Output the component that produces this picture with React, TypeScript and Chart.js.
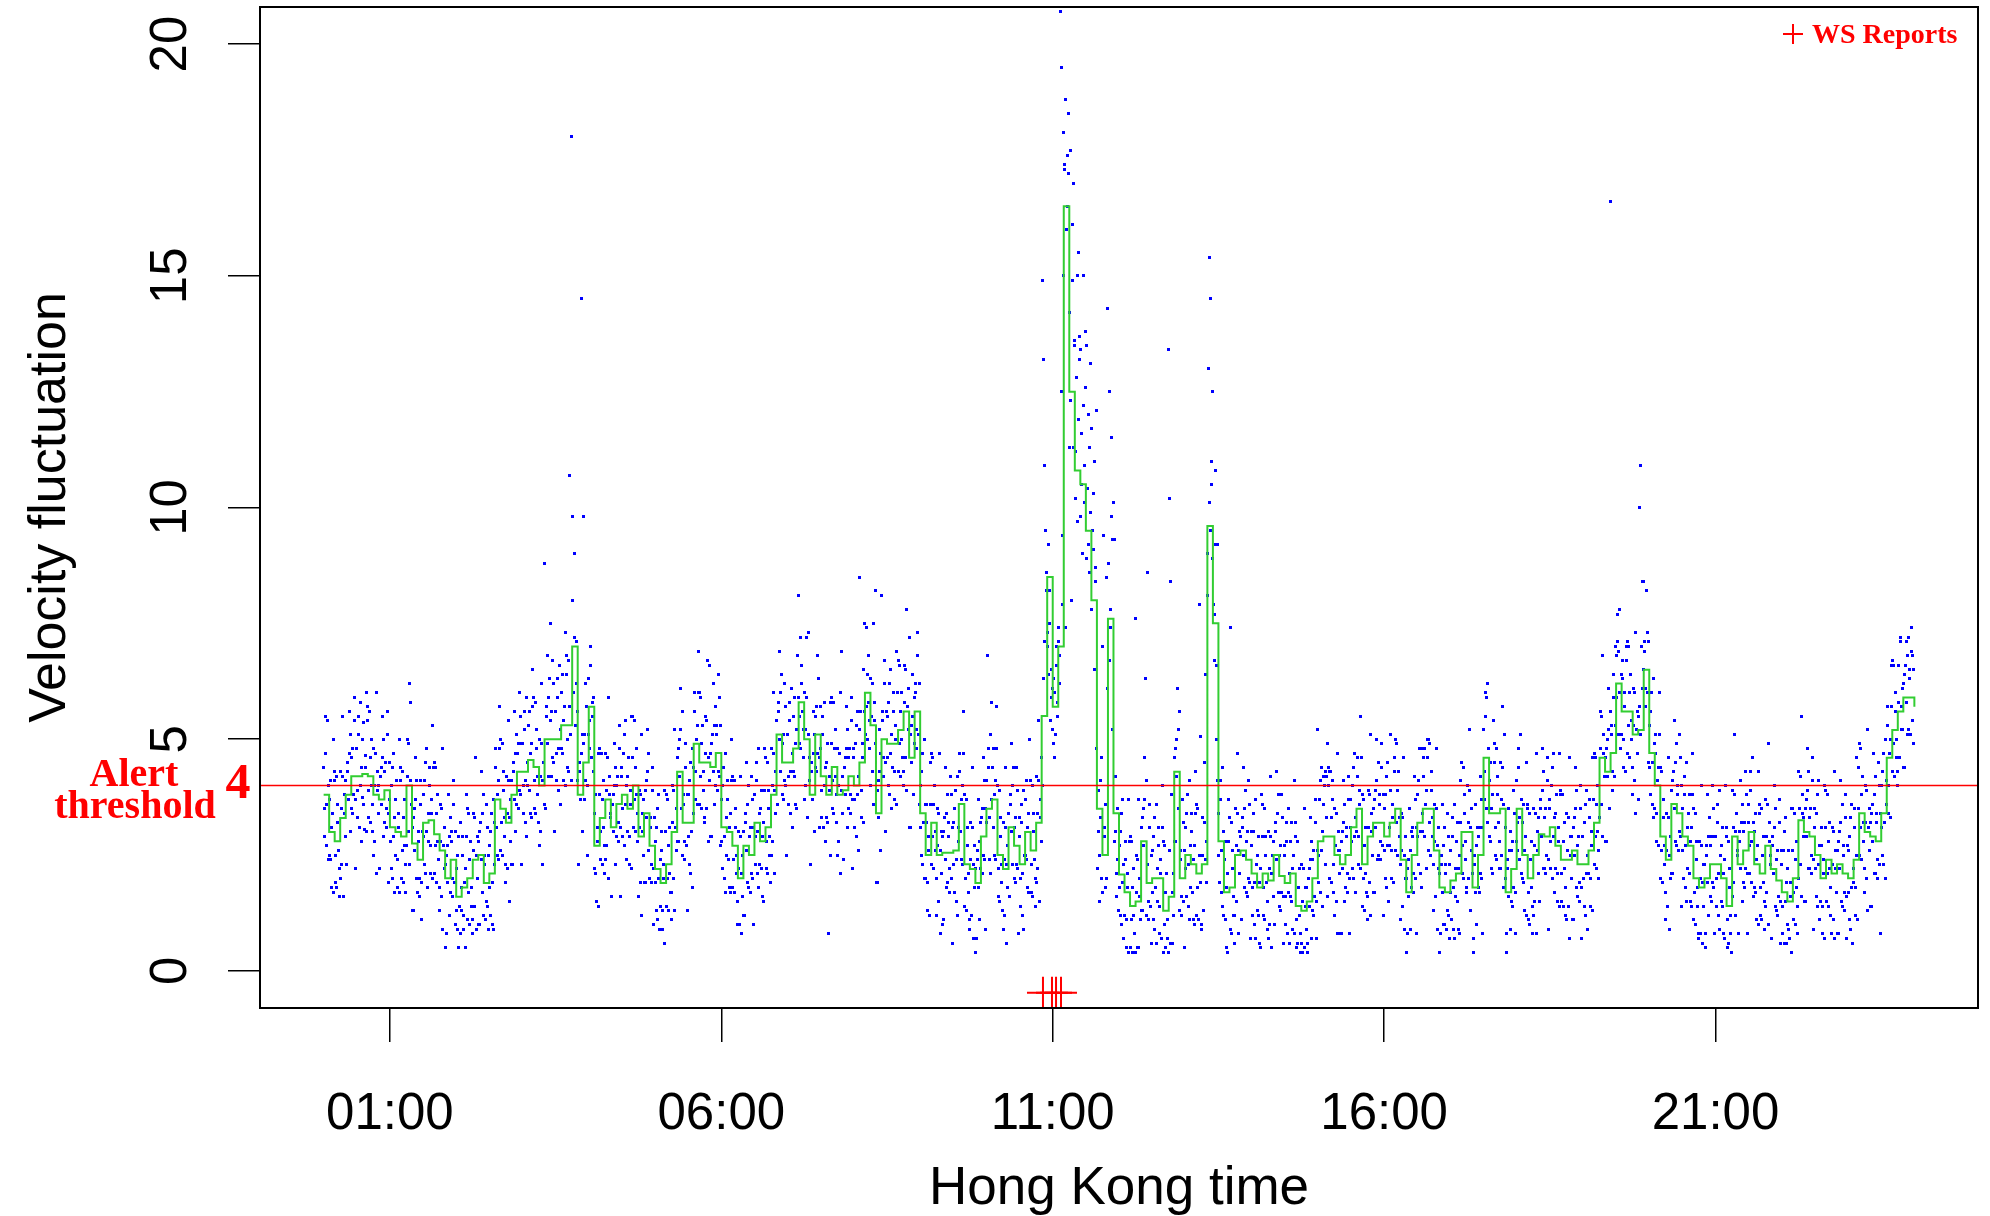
import { useEffect, useRef } from "react";
import { Chart, registerables } from "chart.js";

Chart.register(...registerables);

// ---------- data ----------
const xTickHours = [1, 6, 11, 16, 21];
const xTickLabels = ["01:00", "06:00", "11:00", "16:00", "21:00"];
const yTickValues = [0, 5, 10, 15, 20];
const alertThreshold = 4;
const wsReportHours = [10.853, 10.989, 11.05, 11.125];
const wsMarkerLevel = -0.47;

// running level (green), one value every 5 minutes from 00:00 to 24:00
const greenValues = [
  3.8, 3.0, 2.8, 3.3, 3.8, 4.2, 4.2, 4.25, 4.2, 3.8, 3.7, 3.9,
  3.1, 3.0, 2.9, 4.0, 2.75, 2.4, 3.2, 3.25, 2.95, 2.6, 2.0, 2.4,
  1.6, 1.8, 2.0, 2.4, 2.5, 1.9, 2.1, 3.7, 3.5, 3.2, 3.8, 4.3,
  4.3, 4.55, 4.4, 4.0, 5.0, 5.0, 5.0, 5.3, 5.3, 7.0, 3.8, 4.5,
  5.7, 2.7, 3.3, 3.7, 3.1, 3.6, 3.8, 3.5, 4.0, 2.9, 3.4, 2.7,
  2.2, 1.9, 2.3, 3.0, 4.3, 3.2, 3.2, 4.9, 4.5, 4.5, 4.4, 4.7,
  3.1, 3.0, 2.7, 2.0, 2.7, 2.5, 3.2, 2.8, 3.1, 3.8, 5.1, 4.5,
  4.5, 4.8, 5.8, 5.0, 3.8, 5.1, 4.2, 3.8, 4.4, 3.8, 3.9, 4.2,
  4.0, 4.5, 6.0, 5.3, 3.4, 5.0, 4.9, 4.9, 5.2, 5.6, 4.6, 5.6,
  3.4, 2.5, 3.2, 2.5, 2.55, 2.55, 2.6, 3.6, 2.3, 2.2, 1.9, 2.9,
  3.5, 3.7, 2.5, 2.2, 3.1, 2.7, 2.3, 3.0, 2.6, 3.2, 5.5, 8.5,
  5.7, 7.0, 16.5, 12.5, 10.8, 10.5, 9.5, 8.0, 3.5, 2.5, 7.6, 3.4,
  2.08, 1.7, 1.4, 1.5, 2.8, 1.9, 2.0, 2.0, 1.3, 1.6, 4.3, 2.0,
  2.5, 2.3, 2.1, 2.3, 9.6, 7.5, 2.8, 1.7, 1.8, 2.5, 2.6, 2.4,
  2.1, 1.8, 2.1, 1.95, 2.5, 2.05, 1.9, 2.1, 1.4, 1.3, 1.5, 2.0,
  2.8, 2.9, 2.9, 2.5, 2.3, 2.5, 3.1, 3.5, 2.3, 2.9, 3.2, 3.2,
  2.9, 3.2, 3.5, 2.4, 1.7, 2.5, 3.2, 3.5, 3.5, 2.6, 1.8, 1.7,
  1.95, 2.1, 3.0, 3.0, 1.8, 2.5, 4.6, 3.4, 3.4, 3.5, 1.7, 2.2,
  3.5, 2.5, 2.0, 2.5, 2.95, 2.9, 3.1, 2.7, 2.4, 2.4, 2.6, 2.3,
  2.3, 2.6, 3.2, 4.6, 4.3, 4.7, 6.2, 5.6, 5.6, 5.1, 5.2, 6.5,
  4.7, 4.0, 2.9, 2.4, 3.6, 3.4, 2.9, 2.7, 2.0, 1.8, 2.0, 2.3,
  2.3, 2.0, 1.4, 2.9, 2.3, 2.6, 3.0, 2.3, 2.1, 2.7, 2.2, 1.95,
  1.7, 1.5, 2.0, 3.25, 3.0, 2.9, 2.5, 2.0, 2.4, 2.1, 2.3, 2.1,
  2.0, 2.4, 3.4, 3.0, 2.9, 2.8, 3.4, 4.6, 5.2, 5.6, 5.9, 5.9,
  5.7,
];

// raw samples (blue), on the minute, one row per hour
const blueValues = [
  4.4, 2.9, 5.5, 3.6, 2.4, 2.5, 4.1, 1.8, 3.4, 5.0, 4.3, 2.5, 1.8, 3.6, 2.2, 2.0, 3.5, 4.2, 1.6, 3.8, 4.1, 2.3, 4.5, 5.6, 3.0, 3.5, 4.8, 3.8, 5.4, 2.2, 4.8, 3.3, 5.5, 4.0, 2.8, 3.75, 5.35, 3.05, 4.65, 6.0, 5.7, 3.9, 3.2, 5.0, 3.6, 2.5, 4.0, 4.7, 2.1, 4.3, 4.0, 2.2, 4.4, 5.5, 2.9, 3.2, 4.5, 3.5, 5.1, 1.9,
  3.7, 2.2, 4.4, 2.9, 1.7, 2.5, 4.1, 1.8, 3.4, 5.0, 4.4, 2.6, 1.9, 3.7, 2.3, 2.7, 4.2, 4.9, 2.3, 5.8, 3.1, 1.3, 3.5, 4.6, 2.0, 1.7, 3.0, 2.0, 3.6, 1.1, 3.8, 2.3, 4.5, 3.0, 1.8, 2.8, 4.4, 2.1, 3.7, 5.3, 4.5, 2.7, 1.9, 3.8, 2.4, 1.3, 2.8, 3.5, 0.9, 3.1, 2.3, 0.8, 2.7, 3.8, 1.2, 1.7, 3.0, 2.0, 3.6, 1.0,
  2.2, 0.9, 2.9, 1.4, 0.8, 1.3, 2.9, 0.9, 2.2, 3.8, 3.5, 1.7, 1.0, 2.8, 1.4, 1.1, 2.6, 3.3, 0.9, 2.9, 2.8, 1.0, 3.2, 4.3, 1.7, 1.2, 2.5, 1.5, 3.1, 0.9, 2.7, 1.2, 3.4, 1.9, 0.9, 3.2, 4.8, 2.5, 4.1, 5.7, 5.0, 3.2, 2.5, 4.3, 2.9, 1.9, 3.4, 4.1, 1.5, 3.7, 4.1, 2.3, 4.5, 5.6, 3.0, 3.6, 4.9, 3.9, 5.5, 2.3,
  4.9, 3.4, 5.6, 4.1, 2.9, 4.0, 5.6, 3.4, 4.9, 6.5, 5.9, 4.1, 3.4, 5.2, 3.8, 2.7, 4.2, 4.9, 2.3, 4.5, 8.8, 3.5, 5.7, 6.8, 4.2, 7.5, 5.6, 4.6, 6.2, 3.0, 5.6, 4.1, 6.3, 4.8, 3.6, 4.8, 6.4, 4.1, 5.7, 7.3, 6.8, 5.0, 4.3, 10.7, 18.0, 9.8, 6.0, 7.2, 5.3, 6.2, 4.1, 2.3, 4.5, 14.5, 3.0, 9.8, 5.1, 4.1, 5.7, 2.5,
  6.3, 4.8, 7.0, 5.5, 4.3, 2.2, 3.8, 1.5, 3.1, 4.7, 4.8, 3.0, 2.3, 4.1, 2.7, 2.4, 3.9, 4.6, 2.0, 4.2, 3.4, 1.6, 3.8, 4.9, 2.3, 2.9, 4.2, 3.2, 4.8, 1.6, 4.4, 2.9, 5.1, 3.6, 2.4, 3.0, 4.6, 2.3, 3.9, 5.5, 5.5, 3.7, 3.0, 4.8, 3.4, 1.6, 3.1, 3.8, 1.2, 3.4, 3.7, 1.9, 4.1, 5.2, 2.6, 2.0, 3.3, 2.3, 3.9, 1.0,
  2.8, 1.3, 3.5, 2.0, 0.9, 1.4, 3.0, 0.9, 2.3, 3.9, 3.8, 2.0, 1.3, 3.1, 1.7, 1.7, 3.2, 3.9, 1.3, 3.5, 4.6, 2.8, 5.0, 6.1, 3.5, 2.5, 3.8, 2.8, 4.4, 1.3, 3.8, 2.3, 4.5, 3.0, 1.8, 4.4, 6.0, 3.7, 5.3, 6.9, 6.0, 4.2, 3.5, 5.3, 3.9, 3.2, 4.7, 5.4, 2.8, 6.6, 4.7, 2.9, 5.1, 6.2, 3.6, 4.0, 5.3, 4.3, 5.9, 2.7,
  3.7, 2.2, 4.4, 2.9, 1.7, 2.5, 4.1, 1.8, 3.4, 5.0, 4.2, 2.4, 1.7, 3.5, 2.1, 1.0, 2.2, 2.9, 0.8, 2.5, 3.0, 1.2, 3.4, 4.5, 1.9, 1.8, 3.1, 2.1, 3.7, 1.0, 3.8, 2.3, 4.5, 3.0, 1.8, 2.3, 3.9, 1.6, 3.2, 4.8, 4.6, 2.8, 2.1, 3.9, 2.5, 2.5, 4.0, 4.7, 2.1, 4.3, 5.4, 3.6, 5.8, 6.9, 4.3, 3.8, 5.1, 4.1, 5.7, 2.5,
  5.1, 3.6, 5.8, 4.3, 3.1, 4.3, 5.9, 3.6, 5.2, 6.8, 8.1, 5.5, 4.8, 6.6, 5.2, 3.7, 5.2, 5.9, 3.3, 7.3, 4.1, 2.3, 4.5, 5.6, 3.0, 4.4, 5.7, 4.7, 6.3, 3.1, 4.8, 3.3, 5.5, 4.0, 2.8, 3.3, 4.9, 0.8, 4.2, 5.8, 5.9, 4.1, 3.4, 5.2, 3.8, 2.5, 4.0, 4.7, 2.1, 6.9, 4.2, 2.4, 4.6, 5.7, 3.1, 3.5, 4.8, 3.8, 5.4, 2.2,
  4.6, 3.1, 5.3, 3.8, 2.6, 8.5, 5.6, 3.3, 4.9, 6.5, 7.5, 5.7, 5.0, 6.8, 5.4, 4.0, 5.5, 6.2, 3.6, 5.8, 8.2, 1.9, 4.1, 5.2, 2.6, 8.1, 5.6, 4.6, 6.2, 3.0, 5.5, 4.0, 6.2, 4.7, 3.5, 4.4, 6.0, 3.7, 5.3, 6.9, 6.7, 4.9, 4.2, 6.0, 4.6, 4.3, 5.8, 6.5, 3.9, 6.1, 7.2, 3.1, 5.3, 6.4, 3.8, 4.9, 6.2, 5.2, 6.8, 3.6,
  4.0, 2.5, 4.7, 3.2, 2.0, 2.0, 3.6, 1.3, 2.9, 4.5, 4.7, 2.9, 2.2, 4.0, 2.6, 1.2, 2.7, 3.4, 0.8, 3.0, 2.9, 1.1, 3.3, 4.4, 1.8, 1.9, 3.2, 2.2, 3.8, 0.6, 3.2, 1.7, 3.9, 2.4, 1.2, 3.1, 4.7, 2.4, 4.0, 5.6, 3.8, 2.0, 1.3, 3.1, 1.7, 0.9, 2.4, 3.1, 0.7, 2.7, 2.2, 0.7, 2.6, 3.7, 1.1, 2.2, 3.5, 2.5, 4.1, 0.9,
  4.1, 6.8, 4.8, 3.3, 2.1, 5.8, 4.8, 2.5, 4.1, 5.7, 4.0, 2.2, 1.5, 3.3, 1.9, 0.9, 2.4, 3.1, 0.6, 2.7, 3.4, 1.6, 3.8, 4.9, 2.3, 2.0, 3.3, 2.3, 3.9, 0.8, 2.9, 1.4, 3.6, 2.1, 0.9, 2.5, 4.1, 1.8, 3.4, 5.0, 4.1, 2.3, 1.6, 3.4, 2.0, 1.9, 3.4, 4.1, 1.5, 3.7, 4.6, 14.9, 13.2, 10.9, 8.2, 7.3, 9.2, 7.5, 5.4, 6.5,
  5.2, 6.3, 4.6, 7.0, 5.5, 7.4, 6.8, 20.7, 12.5, 9.4, 18.1, 17.4, 7.4, 16.5, 18.5, 11.3, 17.7, 8.0, 14.9, 17.0, 13.5, 11.2, 15.0, 15.5, 13.7, 13.4, 10.5, 9.0, 15.0, 10.9, 12.6, 13.5, 12.0, 8.6, 13.1, 11.7, 9.5, 10.3, 11.0, 8.7, 4.8, 3.0, 2.5, 4.1, 2.0, 7.0, 9.4, 3.1, 1.8, 8.5, 14.3, 12.5, 7.8, 11.5, 9.3, 10.1, 9.3, 3.0, 1.6, 2.4,
  2.7, 1.2, 3.4, 1.9, 0.7, 1.2, 2.8, 0.5, 2.1, 3.7, 2.9, 1.1, 0.4, 2.2, 0.8, 7.6, 1.7, 2.4, 0.5, 2.0, 3.1, 1.3, 3.5, 4.6, 6.3, 1.2, 8.6, 1.5, 3.1, 0.6, 2.6, 1.1, 3.3, 1.8, 0.6, 1.5, 3.1, 0.8, 2.4, 4.0, 2.8, 1.0, 0.5, 2.1, 0.7, 13.4, 10.2, 8.4, 0.6, 2.1, 4.6, 2.8, 5.0, 6.1, 3.5, 1.3, 2.6, 1.6, 3.2, 0.5,
  3.1, 1.6, 3.8, 2.3, 1.1, 1.8, 3.4, 1.1, 2.7, 4.3, 3.6, 1.8, 1.1, 7.9, 5.05, 1.0, 2.5, 3.2, 6.4, 2.8, 9.0, 13.0, 15.4, 14.5, 11.0, 12.5, 7.7, 10.8, 6.6, 9.2, 3.4, 1.9, 4.1, 2.6, 1.4, 1.2, 2.8, 0.5, 2.1, 3.7, 3.3, 7.4, 0.8, 2.6, 1.2, 1.2, 2.7, 3.4, 0.8, 3.0, 2.9, 1.1, 3.3, 4.4, 1.8, 1.7, 3.0, 2.0, 3.6, 0.7,
  2.7, 1.2, 3.4, 1.9, 0.7, 1.3, 2.9, 0.6, 2.2, 3.8, 3.6, 1.8, 1.1, 2.9, 1.5, 0.7, 2.2, 2.9, 0.5, 2.5, 2.8, 1.0, 3.2, 4.3, 1.7, 1.4, 2.7, 1.7, 3.3, 0.6, 2.5, 1.0, 3.2, 1.7, 0.6, 1.6, 3.2, 0.9, 2.5, 4.1, 2.9, 1.1, 0.6, 2.2, 0.8, 0.6, 1.5, 2.2, 0.5, 1.8, 1.8, 0.6, 2.2, 3.3, 0.7, 1.3, 2.6, 1.6, 3.2, 0.7,
  5.2, 1.9, 4.1, 2.6, 1.4, 4.2, 4.0, 4.3, 3.3, 4.9, 4.4, 4.3, 1.9, 3.7, 2.3, 1.2, 2.7, 3.4, 0.8, 3.0, 2.6, 0.8, 3.0, 4.1, 1.5, 1.8, 3.1, 2.1, 3.7, 0.8, 3.7, 2.2, 4.4, 2.9, 1.7, 3.0, 4.6, 2.3, 3.9, 5.5, 3.8, 2.0, 1.3, 3.1, 1.7, 1.6, 3.1, 3.8, 1.2, 3.4, 3.5, 1.7, 3.9, 5.0, 2.4, 2.5, 3.8, 2.8, 4.4, 1.2,
  3.5, 2.0, 4.2, 2.7, 1.5, 2.7, 5.1, 2.0, 3.6, 4.6, 5.0, 3.2, 2.5, 4.3, 2.9, 1.1, 2.6, 3.3, 0.9, 2.9, 2.0, 0.8, 2.4, 3.5, 0.9, 1.8, 3.1, 2.1, 3.7, 0.8, 3.8, 2.3, 4.8, 3.0, 1.8, 3.0, 4.6, 4.8, 3.9, 5.0, 5.0, 3.2, 2.5, 4.3, 2.9, 1.3, 2.8, 3.5, 0.9, 3.1, 2.1, 0.8, 2.5, 3.6, 1.0, 1.0, 2.3, 1.3, 2.9, 0.7,
  2.6, 1.1, 3.3, 1.8, 0.7, 1.6, 3.2, 0.9, 2.5, 4.1, 4.5, 2.7, 2.0, 3.8, 2.4, 1.7, 3.2, 3.9, 1.3, 3.5, 2.1, 0.7, 2.5, 3.6, 1.0, 1.8, 3.1, 2.1, 3.7, 0.8, 5.2, 3.7, 6.0, 5.9, 3.2, 2.9, 4.5, 2.2, 3.8, 5.4, 4.9, 3.1, 2.4, 4.2, 2.8, 2.2, 3.7, 4.4, 1.8, 5.1, 2.0, 0.8, 2.4, 3.5, 0.9, 1.5, 2.8, 1.8, 3.4, 0.8,
  4.1, 2.6, 4.8, 3.3, 2.1, 2.0, 3.6, 1.3, 2.9, 4.5, 3.5, 1.7, 1.0, 2.8, 1.4, 1.2, 2.7, 3.4, 0.8, 3.0, 3.3, 1.5, 3.7, 4.8, 2.2, 2.2, 3.5, 2.5, 4.1, 0.9, 3.7, 2.2, 4.4, 2.9, 1.7, 2.2, 3.8, 1.5, 3.1, 4.7, 3.9, 2.1, 1.4, 3.2, 1.8, 1.1, 2.6, 3.3, 0.7, 2.9, 2.9, 1.1, 3.3, 4.4, 1.8, 1.6, 2.9, 1.9, 3.5, 0.7,
  2.9, 1.4, 3.6, 2.1, 0.9, 2.1, 3.7, 1.4, 3.0, 4.6, 4.7, 2.9, 2.2, 4.0, 2.6, 3.3, 4.8, 5.5, 2.9, 5.1, 4.6, 2.8, 5.0, 6.1, 3.5, 16.6, 5.3, 4.3, 5.9, 7.0, 6.8, 7.7, 6.9, 6.0, 4.8, 5.1, 6.7, 4.4, 6.0, 7.0, 7.1, 5.3, 4.6, 6.4, 5.0, 3.8, 5.3, 6.0, 3.4, 5.6, 5.5, 10.0, 10.9, 7.0, 8.4, 8.4, 7.1, 6.1, 7.3, 4.5,
  5.3, 3.8, 6.0, 4.5, 3.3, 3.5, 5.1, 2.8, 4.4, 6.0, 4.4, 2.6, 1.9, 3.7, 2.3, 1.1, 2.6, 3.3, 0.9, 2.9, 3.9, 2.1, 4.3, 5.4, 2.8, 2.7, 4.0, 3.0, 4.6, 1.4, 3.5, 2.0, 4.2, 2.7, 1.5, 2.2, 3.8, 1.5, 3.1, 4.7, 3.5, 1.7, 1.0, 2.8, 1.4, 0.7, 2.0, 2.7, 0.6, 2.3, 2.3, 0.8, 2.7, 3.8, 1.2, 1.6, 2.9, 1.9, 3.5, 0.8,
  2.9, 1.4, 3.6, 2.1, 0.9, 1.5, 3.1, 0.8, 2.4, 4.0, 2.9, 1.1, 0.6, 2.2, 0.8, 1.6, 3.1, 3.8, 1.2, 3.4, 2.6, 0.8, 3.0, 4.1, 1.5, 1.9, 3.2, 2.2, 3.8, 0.8, 3.6, 2.1, 4.3, 2.8, 1.6, 1.8, 3.4, 1.1, 2.7, 4.3, 3.6, 1.8, 1.1, 2.9, 1.5, 1.4, 2.9, 3.6, 1.0, 3.2, 2.5, 0.7, 2.9, 4.0, 1.4, 1.3, 2.6, 1.6, 3.2, 0.6,
  2.3, 0.8, 3.0, 1.5, 0.6, 1.0, 2.6, 0.7, 1.9, 3.5, 3.5, 1.7, 1.0, 2.8, 1.4, 2.0, 3.5, 4.2, 1.6, 3.8, 3.3, 1.5, 3.7, 4.8, 2.2, 2.2, 3.5, 2.5, 4.1, 0.9, 3.1, 1.6, 3.8, 2.3, 1.1, 1.5, 3.1, 0.8, 2.4, 4.0, 3.9, 2.1, 1.4, 3.2, 1.8, 0.8, 2.3, 3.0, 0.7, 2.6, 2.6, 0.8, 3.0, 4.1, 1.5, 1.4, 2.7, 1.7, 3.3, 0.7,
  2.6, 1.1, 3.3, 1.8, 0.6, 1.9, 3.5, 1.2, 4.6, 4.4, 4.9, 3.1, 2.4, 4.2, 2.8, 1.7, 3.2, 3.9, 1.3, 3.5, 3.2, 1.4, 3.6, 4.7, 2.1, 2.1, 3.4, 2.4, 4.0, 0.8, 4.0, 2.5, 4.7, 3.2, 2.0, 4.1, 5.7, 3.4, 5.0, 6.6, 6.7, 4.9, 4.2, 6.0, 4.6, 4.3, 5.8, 7.2, 5.2, 6.1, 6.2, 4.4, 6.6, 7.1, 5.1, 5.2, 6.5, 7.4, 6.8, 4.9,
];

// raw samples (blue), on the half-minute, one row per hour
const blueValuesHalf = [
  3.5, 4.7, 2.7, 5.4, 4.0, 3.7, 2.4, 3.1, 1.7, 4.1, 1.9, 4.2, 3.2, 2.6, 1.6, 4.3, 2.3, 5.5, 3.4, 2.9, 2.3, 4.3, 3.7, 4.7, 5.1, 4.6, 3.4, 5.9, 3.7, 4.8, 3.9, 5.1, 3.1, 5.8, 4.4, 5.0, 3.6, 4.4, 3.0, 5.4, 3.3, 5.6, 4.6, 4.0, 3.0, 4.8, 2.8, 6.0, 3.9, 3.4, 2.2, 4.2, 3.6, 4.6, 5.0, 4.3, 3.1, 5.6, 3.4, 4.5,
  2.8, 4.0, 2.0, 4.7, 3.3, 3.7, 2.4, 3.1, 1.7, 4.1, 2.0, 4.3, 3.3, 2.7, 1.7, 5.0, 3.0, 6.2, 4.1, 3.6, 1.3, 3.3, 2.6, 3.7, 4.1, 2.8, 1.6, 4.1, 1.9, 3.0, 2.9, 4.1, 2.1, 4.8, 3.4, 4.0, 2.7, 3.4, 2.0, 4.4, 2.1, 4.4, 3.4, 2.8, 1.8, 3.6, 1.6, 4.8, 2.7, 2.2, 0.5, 2.5, 1.9, 2.9, 3.3, 2.8, 1.6, 4.1, 1.9, 3.0,
  1.3, 2.5, 0.5, 3.2, 1.8, 2.5, 1.2, 1.9, 0.5, 2.9, 1.1, 3.4, 2.4, 1.8, 0.8, 3.4, 1.4, 4.6, 2.5, 2.0, 1.0, 3.0, 2.4, 3.4, 3.8, 2.3, 1.1, 3.6, 1.4, 2.5, 1.8, 3.0, 1.0, 3.7, 2.3, 4.4, 3.1, 3.8, 2.4, 4.8, 2.6, 4.9, 3.9, 3.3, 2.3, 4.2, 2.2, 5.4, 3.3, 2.8, 2.3, 4.3, 3.7, 4.7, 5.1, 4.7, 3.5, 6.0, 3.8, 4.9,
  4.0, 5.2, 3.2, 5.9, 4.5, 5.3, 3.9, 4.7, 3.3, 5.7, 3.5, 5.8, 4.8, 4.2, 3.2, 5.0, 3.0, 6.2, 4.1, 3.6, 3.5, 5.5, 4.9, 5.9, 6.3, 5.4, 4.2, 6.7, 4.5, 5.6, 4.7, 5.9, 3.9, 6.6, 5.2, 6.0, 4.7, 5.4, 4.0, 6.4, 4.4, 6.7, 5.7, 5.1, 4.1, 8.0, 6.0, 9.0, 7.1, 5.6, 2.3, 4.3, 3.7, 4.7, 5.1, 4.9, 3.7, 6.2, 4.0, 5.1,
  5.4, 6.6, 4.6, 5.8, 5.9, 3.4, 2.1, 2.8, 1.4, 3.8, 2.4, 4.7, 3.7, 3.1, 2.1, 4.7, 2.7, 5.9, 3.8, 3.3, 1.6, 3.6, 3.0, 4.0, 4.4, 4.0, 2.8, 5.3, 3.1, 4.2, 3.5, 4.7, 2.7, 5.4, 4.0, 4.2, 2.9, 3.6, 2.2, 4.6, 3.1, 5.4, 4.4, 3.8, 2.8, 3.9, 1.9, 5.1, 3.0, 2.5, 1.9, 3.9, 3.3, 4.3, 4.7, 3.1, 1.9, 4.4, 2.2, 3.3,
  1.9, 3.1, 1.1, 3.8, 2.4, 2.6, 1.3, 2.0, 0.6, 3.0, 1.4, 3.7, 2.7, 2.1, 1.1, 4.0, 2.0, 5.2, 3.1, 2.6, 2.8, 4.8, 4.2, 5.2, 5.6, 3.6, 2.4, 4.9, 2.7, 3.8, 2.9, 4.1, 2.1, 4.8, 3.4, 5.6, 4.3, 5.0, 3.6, 6.0, 3.6, 5.9, 4.9, 4.3, 3.3, 5.5, 3.5, 6.7, 4.6, 4.1, 2.9, 4.9, 4.3, 5.3, 5.7, 5.1, 3.9, 6.4, 4.2, 5.3,
  2.8, 4.0, 2.0, 4.7, 3.3, 3.7, 2.4, 3.1, 1.7, 4.1, 1.8, 4.1, 3.1, 2.5, 1.5, 3.0, 1.0, 4.2, 2.1, 1.6, 1.2, 3.2, 2.6, 3.6, 4.0, 2.9, 1.7, 4.2, 2.0, 3.1, 2.9, 4.1, 2.1, 4.8, 3.4, 3.5, 2.2, 2.9, 1.5, 3.9, 2.2, 4.5, 3.5, 2.9, 1.9, 4.8, 2.8, 6.0, 3.9, 3.4, 3.6, 5.6, 5.0, 6.0, 6.4, 4.9, 3.7, 6.2, 4.0, 5.1,
  4.2, 5.4, 3.4, 6.1, 4.7, 5.5, 4.2, 4.9, 3.5, 5.9, 4.9, 7.2, 6.2, 5.6, 4.6, 6.0, 4.0, 7.2, 5.1, 4.6, 2.3, 4.3, 3.7, 4.7, 5.1, 5.5, 4.3, 6.8, 4.6, 5.7, 3.9, 5.1, 3.1, 5.8, 4.4, 4.5, 3.2, 3.9, 2.5, 4.9, 3.5, 5.8, 4.8, 4.2, 3.2, 4.8, 2.8, 6.0, 3.9, 3.4, 2.4, 4.4, 3.8, 4.8, 5.2, 4.6, 3.4, 5.9, 3.7, 4.8,
  3.7, 4.9, 2.9, 5.6, 4.2, 5.2, 3.9, 4.6, 3.2, 5.6, 5.1, 7.4, 6.4, 5.8, 4.8, 6.3, 4.3, 7.5, 5.4, 4.9, 1.9, 3.9, 3.3, 4.3, 4.7, 5.4, 4.2, 6.7, 4.5, 5.6, 4.6, 5.8, 3.8, 6.5, 5.1, 5.6, 4.3, 5.0, 3.6, 6.0, 4.3, 6.6, 5.6, 5.0, 4.0, 6.6, 4.6, 7.8, 5.7, 5.2, 3.1, 5.1, 4.5, 5.5, 5.9, 6.0, 4.8, 7.3, 5.1, 6.2,
  3.1, 4.3, 2.3, 5.0, 3.6, 3.2, 1.9, 2.6, 1.2, 3.6, 2.3, 4.6, 3.6, 3.0, 2.0, 3.5, 1.5, 4.7, 2.6, 2.1, 1.0, 3.0, 2.4, 3.4, 3.8, 2.9, 1.7, 4.2, 2.0, 3.1, 2.3, 3.5, 1.5, 4.2, 2.8, 4.3, 3.0, 3.7, 2.3, 4.7, 1.4, 3.7, 2.7, 2.1, 1.1, 3.2, 1.2, 4.4, 2.3, 1.8, 0.4, 2.4, 1.8, 2.8, 3.2, 3.3, 2.1, 4.6, 2.4, 3.5,
  3.2, 4.4, 2.4, 5.1, 3.7, 4.4, 3.1, 3.8, 2.4, 4.8, 1.6, 3.9, 2.9, 2.3, 1.3, 3.2, 1.2, 4.4, 2.3, 1.8, 1.6, 3.6, 3.0, 4.0, 4.4, 3.1, 1.9, 4.4, 2.2, 3.3, 2.0, 3.2, 1.2, 3.9, 2.5, 3.7, 2.4, 3.1, 1.7, 4.1, 1.7, 4.0, 3.0, 2.4, 1.4, 4.2, 2.2, 5.4, 3.3, 2.8, 4.0, 6.3, 7.1, 9.5, 8.6, 7.0, 6.4, 8.2, 5.9, 6.1,
  4.9, 6.0, 5.1, 6.6, 5.8, 7.1, 6.2, 19.5, 7.9, 15.0, 17.3, 18.8, 16.0, 17.6, 17.2, 14.2, 12.3, 16.1, 11.3, 13.6, 10.2, 12.8, 9.7, 11.9, 13.2, 9.8, 11.6, 12.2, 10.1, 13.8, 8.9, 10.4, 9.2, 11.3, 9.9, 7.8, 9.1, 6.5, 8.4, 12.1, 2.2, 3.9, 1.5, 3.3, 4.6, 1.7, 2.9, 3.6, 2.0, 6.1, 8.8, 6.7, 7.4, 9.8, 5.2, 2.8, 4.2, 2.1, 3.5, 1.3,
  1.8, 3.0, 1.0, 3.7, 2.3, 2.4, 1.1, 1.8, 0.4, 2.8, 0.5, 2.8, 1.8, 1.2, 0.4, 2.5, 0.5, 3.7, 1.6, 1.1, 1.3, 3.3, 2.7, 3.7, 4.1, 2.3, 1.1, 3.6, 1.4, 2.5, 1.7, 2.9, 0.9, 3.6, 2.2, 2.7, 1.4, 2.1, 0.7, 3.1, 0.4, 2.7, 1.7, 1.1, 0.4, 2.6, 0.6, 3.8, 1.7, 1.2, 2.8, 4.8, 4.2, 5.2, 5.6, 2.4, 1.2, 3.7, 1.5, 2.6,
  2.2, 3.4, 1.4, 4.1, 2.7, 3.0, 1.7, 2.4, 1.0, 3.4, 1.2, 3.5, 2.5, 1.9, 0.9, 3.3, 1.3, 4.5, 2.4, 1.9, 8.1, 10.1, 9.5, 10.5, 8.9, 7.9, 6.7, 9.2, 5.0, 4.1, 2.5, 3.7, 1.7, 4.4, 3.0, 2.4, 1.1, 1.8, 0.4, 2.8, 0.9, 3.2, 2.2, 1.6, 0.6, 3.5, 1.5, 4.7, 2.6, 2.1, 1.1, 3.1, 2.5, 3.5, 3.9, 2.8, 1.6, 4.1, 1.9, 3.0,
  1.8, 3.0, 1.0, 3.7, 2.3, 2.5, 1.2, 1.9, 0.5, 2.9, 1.2, 3.5, 2.5, 1.9, 0.9, 3.0, 1.0, 4.2, 2.1, 1.6, 1.0, 3.0, 2.4, 3.4, 3.8, 2.5, 1.3, 3.8, 1.6, 2.7, 1.6, 2.8, 0.8, 3.5, 2.1, 2.8, 1.5, 2.2, 0.8, 3.2, 0.5, 2.8, 1.8, 1.2, 0.4, 2.3, 0.4, 3.5, 1.4, 0.9, 0.4, 2.0, 1.4, 2.4, 2.8, 2.4, 1.2, 3.7, 1.5, 2.6,
  2.5, 3.7, 1.7, 4.4, 3.0, 3.6, 2.3, 4.2, 1.6, 4.0, 2.0, 4.3, 3.3, 4.1, 1.7, 3.5, 1.5, 4.7, 2.6, 2.1, 0.8, 2.8, 2.2, 3.2, 3.6, 2.9, 1.7, 4.2, 2.0, 3.1, 2.8, 4.0, 2.0, 4.7, 3.3, 4.2, 2.9, 3.6, 2.2, 4.6, 1.4, 3.7, 2.7, 2.1, 1.1, 3.9, 1.9, 5.1, 3.0, 2.5, 1.7, 3.7, 3.1, 4.1, 4.5, 3.6, 2.4, 4.9, 2.7, 3.8,
  2.6, 3.8, 1.8, 4.5, 3.1, 3.9, 2.6, 3.3, 1.9, 4.3, 2.6, 4.9, 3.9, 3.3, 2.3, 3.4, 1.4, 4.6, 2.5, 2.0, 0.4, 2.2, 1.6, 2.6, 3.0, 2.9, 1.7, 4.2, 2.0, 3.1, 2.9, 4.1, 2.1, 4.8, 3.4, 4.2, 2.9, 3.6, 2.2, 4.6, 2.6, 4.9, 3.9, 3.3, 2.3, 3.6, 1.6, 4.8, 2.7, 2.2, 0.4, 2.3, 1.7, 2.7, 3.1, 2.1, 0.9, 3.4, 1.2, 2.3,
  1.7, 2.9, 0.9, 3.6, 2.2, 2.8, 1.5, 2.2, 0.8, 3.2, 2.1, 4.4, 3.4, 2.8, 1.8, 4.0, 2.0, 5.2, 3.1, 2.6, 0.4, 2.3, 1.7, 2.7, 3.1, 2.9, 1.7, 4.2, 2.0, 3.1, 4.3, 5.5, 3.5, 6.2, 4.8, 4.1, 2.8, 3.5, 2.1, 4.5, 2.5, 4.8, 3.8, 3.2, 2.2, 4.5, 2.5, 5.7, 3.6, 3.1, 0.4, 2.2, 1.6, 2.6, 3.0, 2.6, 1.4, 3.9, 1.7, 2.8,
  3.2, 4.4, 2.4, 5.1, 3.7, 3.2, 1.9, 2.6, 1.2, 3.6, 1.1, 3.4, 2.4, 1.8, 0.8, 3.5, 1.5, 4.7, 2.6, 2.1, 1.5, 3.5, 2.9, 3.9, 4.3, 3.3, 2.1, 4.6, 2.4, 3.5, 2.8, 4.0, 2.0, 4.7, 3.3, 3.4, 2.1, 2.8, 1.4, 3.8, 1.5, 3.8, 2.8, 2.2, 1.2, 3.4, 1.4, 4.6, 2.5, 2.0, 1.1, 3.1, 2.5, 3.5, 3.9, 2.7, 1.5, 4.0, 1.8, 2.9,
  2.0, 3.2, 1.2, 3.9, 2.5, 3.3, 2.0, 2.7, 1.3, 3.7, 2.3, 4.6, 3.6, 3.0, 2.0, 5.6, 3.6, 6.8, 4.7, 4.2, 2.8, 4.8, 4.2, 5.2, 5.6, 5.1, 3.9, 6.4, 4.2, 5.3, 5.9, 7.1, 5.1, 7.8, 6.4, 6.3, 5.0, 5.7, 4.3, 6.7, 4.7, 7.0, 6.0, 5.4, 4.4, 6.1, 4.1, 7.3, 5.2, 4.7, 3.7, 5.7, 5.1, 6.1, 6.5, 6.9, 5.7, 8.2, 6.0, 7.1,
  4.4, 5.6, 3.6, 6.3, 4.9, 4.7, 3.4, 4.1, 2.7, 5.1, 2.0, 4.3, 3.3, 2.7, 1.7, 3.4, 1.4, 4.6, 2.5, 2.0, 2.1, 4.1, 3.5, 4.5, 4.9, 3.8, 2.6, 5.1, 2.9, 4.0, 2.6, 3.8, 1.8, 4.5, 3.1, 3.4, 2.1, 2.8, 1.4, 3.8, 1.1, 3.4, 2.4, 1.8, 0.8, 2.8, 0.8, 4.0, 1.9, 1.4, 0.5, 2.5, 1.9, 2.9, 3.3, 2.7, 1.5, 4.0, 1.8, 2.9,
  2.0, 3.2, 1.2, 3.9, 2.5, 2.7, 1.4, 2.1, 0.7, 3.1, 0.5, 2.8, 1.8, 1.2, 0.4, 3.9, 1.9, 5.1, 3.0, 2.5, 0.8, 2.8, 2.2, 3.2, 3.6, 3.0, 1.8, 4.3, 2.1, 3.2, 2.7, 3.9, 1.9, 4.6, 3.2, 3.0, 1.7, 2.4, 1.0, 3.4, 1.2, 3.5, 2.5, 1.9, 0.9, 3.7, 1.7, 4.9, 2.8, 2.3, 0.7, 2.7, 2.1, 3.1, 3.5, 2.4, 1.2, 3.7, 1.5, 2.6,
  1.4, 2.6, 0.6, 3.3, 1.9, 2.2, 0.9, 1.6, 0.4, 2.6, 1.1, 3.4, 2.4, 1.8, 0.8, 4.3, 2.3, 5.5, 3.4, 2.9, 1.5, 3.5, 2.9, 3.9, 4.3, 3.3, 2.1, 4.6, 2.4, 3.5, 2.2, 3.4, 1.4, 4.1, 2.7, 2.7, 1.4, 2.1, 0.7, 3.1, 1.5, 3.8, 2.8, 2.2, 1.2, 3.1, 1.1, 4.3, 2.2, 1.7, 0.8, 2.8, 2.2, 3.2, 3.6, 2.5, 1.3, 3.8, 1.6, 2.7,
  1.7, 2.9, 0.9, 3.6, 2.2, 3.1, 1.8, 2.5, 1.1, 3.5, 2.5, 4.8, 3.8, 3.2, 2.2, 4.0, 2.0, 5.2, 3.1, 2.6, 1.4, 3.4, 2.8, 3.8, 4.2, 3.2, 2.0, 4.5, 2.3, 3.4, 3.1, 4.3, 2.3, 5.0, 3.6, 5.3, 4.0, 4.7, 3.3, 5.7, 4.3, 6.6, 5.6, 5.0, 4.0, 6.6, 4.6, 7.1, 5.7, 5.2, 4.4, 6.4, 5.8, 6.8, 7.2, 6.3, 5.1, 6.9, 5.4, 6.5,
];

const greenStep = 1 / 12; // hours between green values
const blueStep = 1 / 60; // hours between blue samples
const xMin = -0.96;
const xMax = 24.96;
const yMin = -0.8;
const yMax = 20.8;

const SANS = "'Liberation Sans', Arial, Helvetica, sans-serif";
const SERIF = "'Liberation Serif', 'Times New Roman', Times, serif";

const crispPlugin = {
  id: "crispDots",
  beforeDatasetsDraw(chart: any) {
    chart.ctx.imageSmoothingEnabled = false;
  },
};

const framePlugin = {
  id: "rFrame",
  afterDatasetsDraw(chart: any) {
    const { ctx, chartArea: a, scales } = chart;
    ctx.save();
    ctx.strokeStyle = "#000";
    ctx.lineWidth = 2;
    ctx.strokeRect(a.left, a.top, a.right - a.left, a.bottom - a.top);

    const y4 = scales.y.getPixelForValue(alertThreshold);
    ctx.fillStyle = "#FF0000";
    ctx.textAlign = "center";
    ctx.textBaseline = "alphabetic";
    ctx.font = `bold 40px ${SERIF}`;
    ctx.fillText("Alert", 134, y4);
    ctx.fillText("threshold", 135, y4 + 32);
    ctx.font = `bold 50px ${SERIF}`;
    ctx.fillText(String(alertThreshold), 238, y4 + 12);

    const lx = a.right - 185;
    const ly = a.top + 27;
    ctx.strokeStyle = "#FF0000";
    ctx.lineWidth = 2;
    ctx.beginPath();
    ctx.moveTo(lx - 10, ly);
    ctx.lineTo(lx + 10, ly);
    ctx.moveTo(lx, ly - 10);
    ctx.lineTo(lx, ly + 10);
    ctx.stroke();
    ctx.textAlign = "left";
    ctx.font = `bold 28px ${SERIF}`;
    ctx.fillText("WS Reports", lx + 19, ly + 9);
    ctx.restore();
  },
};

export default function App() {
  const ref = useRef<HTMLCanvasElement | null>(null);

  useEffect(() => {
    if (!ref.current) return;
    const dot = document.createElement("canvas");
    dot.width = 3;
    dot.height = 3;
    const dctx = dot.getContext("2d")!;
    dctx.fillStyle = "#0000FF";
    dctx.fillRect(0, 0, 3, 3);

    const bluePoints = [
      ...blueValues.map((v, i) => ({ x: i * blueStep, y: v })),
      ...blueValuesHalf.map((v, i) => ({ x: (i + 0.5) * blueStep, y: v })),
    ];
    const greenPoints = greenValues.map((v, i) => ({ x: i * greenStep, y: v }));
    const wsPoints = wsReportHours.map((h) => ({ x: h, y: wsMarkerLevel }));

    const chart = new Chart(ref.current, {
      type: "scatter",
      data: {
        datasets: [
          {
            label: "WS Reports",
            data: wsPoints,
            pointStyle: "cross",
            pointRadius: 16,
            borderColor: "#FF0000",
            backgroundColor: "#FF0000",
            borderWidth: 2,
            clip: false,
            order: 1,
          } as any,
          {
            label: "Alert threshold",
            data: [
              { x: xMin, y: alertThreshold },
              { x: xMax, y: alertThreshold },
            ],
            showLine: true,
            borderColor: "#FF0000",
            borderWidth: 1.6,
            pointRadius: 0,
            order: 2,
          } as any,
          {
            label: "Smoothed",
            data: greenPoints,
            showLine: true,
            stepped: true,
            borderColor: "#32CD32",
            borderWidth: 2,
            pointRadius: 0,
            order: 3,
          } as any,
          {
            label: "Velocity fluctuation",
            data: bluePoints,
            pointStyle: dot,
            pointRadius: 1.5,
            borderWidth: 0,
            order: 4,
          } as any,
        ],
      },
      options: {
        responsive: false,
        animation: false,
        devicePixelRatio: 1,
        events: [],
        layout: { autoPadding: false, padding: { left: 0, top: 7, right: 12, bottom: 0 } },
        plugins: { legend: { display: false }, tooltip: { enabled: false } },
        scales: {
          x: {
            type: "linear",
            min: xMin,
            max: xMax,
            afterBuildTicks: (s: any) => {
              s.ticks = xTickHours.map((v) => ({ value: v }));
            },
            afterFit: (s: any) => {
              s.height = 208;
              s.paddingLeft = 0;
              s.paddingRight = 0;
              s.paddingTop = 0;
              s.paddingBottom = 0;
            },
            grid: {
              display: true,
              drawOnChartArea: false,
              drawTicks: true,
              tickLength: 34,
              color: "#000",
              lineWidth: 1.5,
            },
            border: { display: false },
            ticks: {
              autoSkip: false,
              minRotation: 0,
              maxRotation: 0,
              padding: 42,
              color: "#000",
              font: { family: SANS, size: 51 },
              callback: (v: any) => xTickLabels[xTickHours.indexOf(Number(v))] ?? "",
            },
            title: {
              display: true,
              text: "Hong Kong time",
              color: "#000",
              font: { family: SANS, size: 53, lineHeight: 1.0 },
              padding: { top: 0, bottom: 0 },
            },
          },
          y: {
            type: "linear",
            min: yMin,
            max: yMax,
            afterBuildTicks: (s: any) => {
              s.ticks = yTickValues.map((v) => ({ value: v }));
            },
            afterFit: (s: any) => {
              s.width = 260;
              s.paddingLeft = 0;
              s.paddingRight = 0;
              s.paddingTop = 0;
              s.paddingBottom = 0;
            },
            grid: {
              display: true,
              drawOnChartArea: false,
              drawTicks: true,
              tickLength: 32,
              color: "#000",
              lineWidth: 1.5,
            },
            border: { display: false },
            ticks: {
              autoSkip: false,
              minRotation: 90,
              maxRotation: 90,
              crossAlign: "center",
              padding: 28,
              color: "#000",
              font: { family: SANS, size: 51 },
              callback: (v: any) => String(v),
            },
            title: {
              display: true,
              text: "Velocity fluctuation",
              color: "#000",
              font: { family: SANS, size: 52, lineHeight: 1.0 },
              padding: { top: 25, bottom: 0 },
            },
          },
        },
      } as any,
      plugins: [crispPlugin, framePlugin],
    });
    return () => chart.destroy();
  }, []);

  return (
    <div
      style={{
        position: "fixed",
        left: 0,
        top: 0,
        width: 1990,
        height: 1216,
        background: "#fff",
      }}
    >
      <canvas ref={ref} width={1990} height={1216} style={{ display: "block" }} />
    </div>
  );
}
